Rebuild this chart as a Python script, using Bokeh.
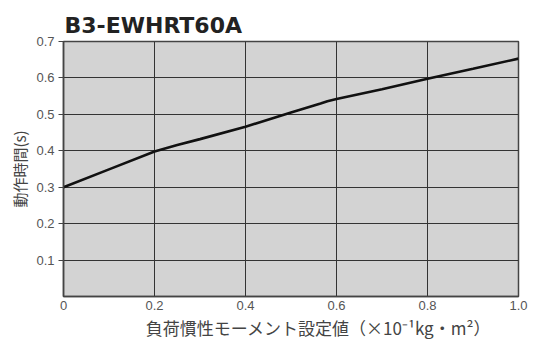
from bokeh.plotting import figure
from bokeh.models import FixedTicker, Range1d
from bokeh.embed import file_html
from bokeh.resources import INLINE

# data
inertia = [0.0, 0.1, 0.2, 0.25, 0.3, 0.4, 0.5, 0.565, 0.58, 0.6, 0.7, 0.8, 0.9, 1.0]
op_time = [0.30, 0.349, 0.398, 0.416, 0.432, 0.466, 0.505, 0.530, 0.536, 0.542, 0.569, 0.598, 0.625, 0.653]

x_ticks = [0, 0.2, 0.4, 0.6, 0.8, 1.0]
x_tick_labels = ["0", "0.2", "0.4", "0.6", "0.8", "1.0"]
y_ticks = [0.1, 0.2, 0.3, 0.4, 0.5, 0.6, 0.7]
y_tick_labels = ["0.1", "0.2", "0.3", "0.4", "0.5", "0.6", "0.7"]

title_text = "B3-EWHRT60A"
x_label = "\u3000\u3000\u3000 負荷慣性モーメント設定値（×10⁻¹kg・m²）"
y_label = "動作時間(s)"

p = figure(width=533, height=342, output_backend="svg", toolbar_location=None,
           x_range=Range1d(0, 1.0), y_range=Range1d(0, 0.7),
           min_border_left=63, min_border_right=15, min_border_top=41, min_border_bottom=41,
           background_fill_color="#d3d3d3", border_fill_color="white")

p.title.text = title_text
p.title.text_font = "DejaVu Sans"
p.title.text_font_style = "bold"
p.title.text_font_size = "22px"
p.title.text_color = "#222222"
p.title.align = "left"
p.title.offset = 1
p.title.standoff = 8

p.line(inertia, op_time, line_color="#111111", line_width=2.6)

p.xaxis.ticker = FixedTicker(ticks=x_ticks)
p.xaxis.major_label_overrides = dict(zip(x_ticks, x_tick_labels))
p.yaxis.ticker = FixedTicker(ticks=y_ticks)
p.yaxis.major_label_overrides = dict(zip(y_ticks, y_tick_labels))

for ax in (p.xaxis[0], p.yaxis[0]):
    ax.axis_line_color = "#444444"
    ax.axis_line_width = 1.5
    ax.minor_tick_line_color = None
    ax.major_label_text_font = "Liberation Sans"
    ax.major_label_text_font_size = "13px"
    ax.major_label_text_color = "#555555"
    ax.axis_label_text_font = "Noto Sans CJK JP"
    ax.axis_label_text_font_style = "normal"
    ax.axis_label_text_color = "#444444"

p.xaxis.major_tick_out = 0
p.xaxis.major_tick_in = 0
p.xaxis.major_label_standoff = 4
p.xaxis.axis_label = x_label
p.xaxis.axis_label_text_font_size = "17px"
p.xaxis.axis_label_standoff = 2

p.yaxis.major_tick_out = 5
p.yaxis.major_tick_in = 0
p.yaxis.major_tick_line_color = "#444444"
p.yaxis.major_label_standoff = 4
p.yaxis.axis_label = y_label
p.yaxis.axis_label_text_font_size = "15px"
p.yaxis.axis_label_standoff = 3

p.xgrid.ticker = FixedTicker(ticks=x_ticks)
p.ygrid.ticker = FixedTicker(ticks=y_ticks)
p.grid.grid_line_color = "#333333"
p.grid.grid_line_width = 1
p.grid.grid_line_alpha = 1

p.outline_line_color = "#444444"
p.outline_line_width = 1.5
p.outline_line_alpha = 1

open("out.html", "w").write(file_html(p, INLINE))
